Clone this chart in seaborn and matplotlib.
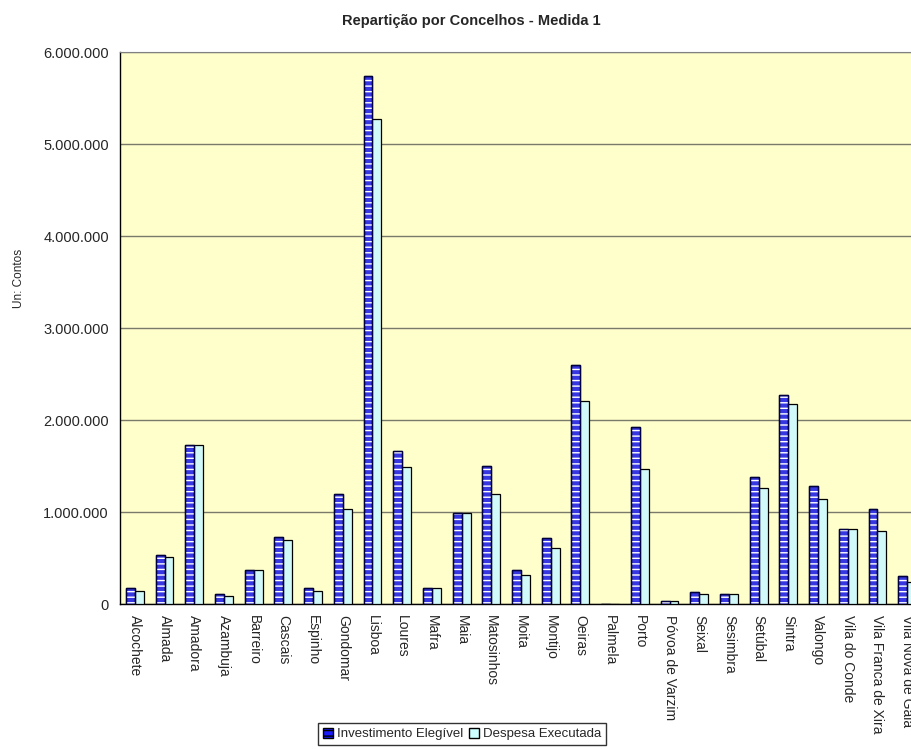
import pandas as pd
import matplotlib
matplotlib.use("Agg")
import matplotlib.pyplot as plt
import matplotlib.ticker as mticker
from matplotlib.patches import Rectangle
import seaborn as sns

# Dados (valores em contos).
concelhos = [
    "Alcochete", "Almada", "Amadora", "Azambuja", "Barreiro", "Cascais",
    "Espinho", "Gondomar", "Lisboa", "Loures", "Mafra", "Maia", "Matosinhos",
    "Moita", "Montijo", "Oeiras", "Palmela", "Porto", "Póvoa de Varzim",
    "Seixal", "Sesimbra", "Setúbal", "Sintra", "Valongo", "Vila do Conde",
    "Vila Franca de Xira", "Vila Nova de Gaia",
]
investimento = [
    177000, 529000, 1728000, 112000, 370000, 730000,
    177000, 1200000, 5742000, 1663000, 177000, 990000, 1500000,
    370000, 720000, 2594000, 0, 1920000, 30000,
    130000, 110000, 1377000, 2275000, 1280000, 810000,
    1036000, 304000,
]
despesa = [
    145000, 510000, 1728000, 90000, 370000, 700000,
    145000, 1036000, 5275000, 1489000, 177000, 990000, 1200000,
    320000, 605000, 2207000, 0, 1470000, 30000,
    110000, 110000, 1264000, 2177000, 1138000, 810000,
    797000, 236000,
]
series = ["Investimento Elegível", "Despesa Executada"]
cores = ["#1A1AFF", "#CCFFFF"]

df = pd.DataFrame({
    "Concelho": concelhos * 2,
    "Valor": investimento + despesa,
    "Série": [series[0]] * len(concelhos) + [series[1]] * len(concelhos),
})

sns.set_style("white")
plt.rcParams["font.family"] = ["Liberation Sans", "DejaVu Sans"]
plt.rcParams["hatch.linewidth"] = 1.0

fig = plt.figure(figsize=(9.12, 7.49), dpi=100)
ax = fig.add_axes([120 / 912, 145 / 749, 802 / 912, 552 / 749])
ax.set_facecolor("#FFFFCC")

sns.barplot(data=df, x="Concelho", y="Valor", hue="Série", palette=cores,
            width=0.6, edgecolor="black", linewidth=0.9, ax=ax, legend=False,
            zorder=3)

# Padrão branco nas barras azuis.
n = len(concelhos)
for p in ax.patches[:n]:
    ax.add_patch(Rectangle(p.get_xy(), p.get_width(), p.get_height(),
                           facecolor="none", edgecolor="white", hatch="---",
                           linewidth=0, zorder=3.5))
    ax.add_patch(Rectangle(p.get_xy(), p.get_width(), p.get_height(),
                           facecolor="none", edgecolor="#000040",
                           linewidth=1.0, zorder=3.6))

ax.set_ylim(0, 6000000)
ax.set_xlim(-0.5, n - 0.5)
ax.yaxis.set_major_locator(mticker.MultipleLocator(1000000))
ax.yaxis.set_major_formatter(
    mticker.FuncFormatter(lambda v, _: f"{int(v):,}".replace(",", ".")))
ax.grid(axis="y", color="#7A7A6A", linewidth=1.0, zorder=1)
ax.set_axisbelow(True)

ax.set_xticks(range(n))
ax.set_xticklabels(concelhos, rotation=270, va="top", ha="center", fontsize=10)
ax.set_xticks([i - 0.5 for i in range(n + 1)], minor=True)
ax.tick_params(axis="x", which="major", length=0, pad=8)
ax.tick_params(axis="x", which="minor", length=5, direction="out", width=1)
ax.tick_params(axis="y", length=5, direction="out", width=1, labelsize=10.5, pad=3)

ax.set_xlabel("")
ax.set_ylabel("")
for s in ["left", "bottom"]:
    ax.spines[s].set_color("black")
    ax.spines[s].set_linewidth(1)
ax.spines["top"].set_color("#808080")
ax.spines["right"].set_visible(False)

fig.text(471 / 912, 1 - 21 / 749, "Repartição por Concelhos - Medida 1",
         ha="center", va="center", fontsize=10.5, fontweight="bold")
fig.text(19 / 912, 1 - 278 / 749, "Un: Contos", rotation=90,
         ha="center", va="center", fontsize=8.5)

handles = [
    Rectangle((0, 0), 1, 1, facecolor=cores[0], edgecolor="black", hatch="---"),
    Rectangle((0, 0), 1, 1, facecolor=cores[1], edgecolor="black"),
]
leg = fig.legend(handles, series, loc="upper center",
                 bbox_to_anchor=(462 / 912, 1 - 723 / 749), ncol=2,
                 fontsize=9.5, frameon=True, fancybox=False,
                 handlelength=0.8, handleheight=0.8, handletextpad=0.3,
                 columnspacing=0.4, borderpad=0.35, borderaxespad=0)
leg.get_frame().set_edgecolor("black")
leg.get_frame().set_linewidth(1)

fig.savefig("out.png", dpi=100)
